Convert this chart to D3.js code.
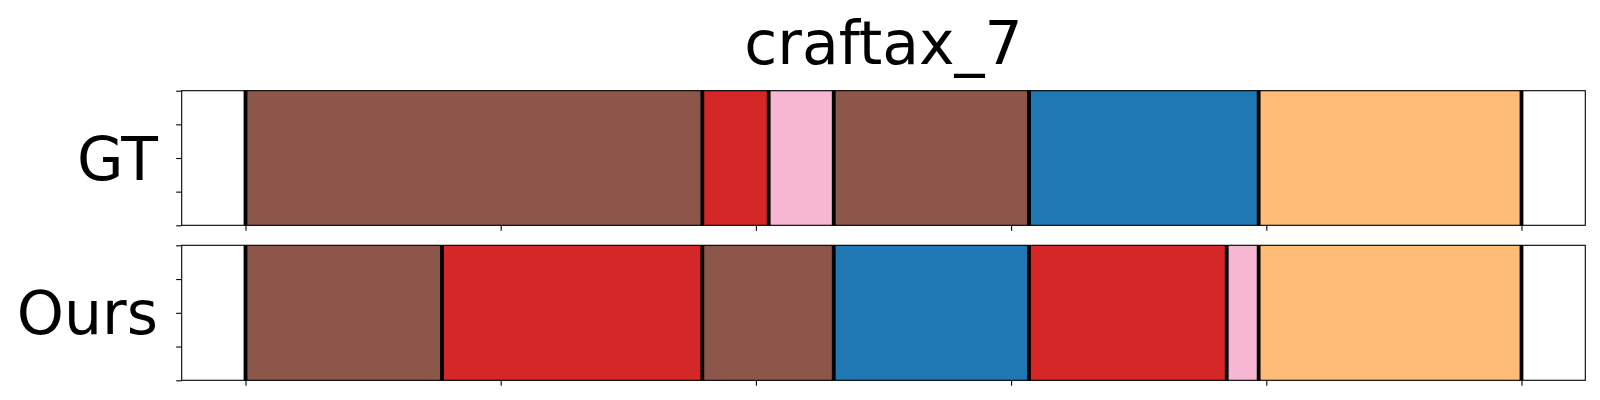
<!DOCTYPE html>
<html>
<head>
<meta charset="utf-8">
<script src="https://cdn.jsdelivr.net/npm/d3@7"></script>
<style>
  html, body { margin: 0; padding: 0; background: #fff; }
  svg { display: block; font-family: "DejaVu Sans", sans-serif; }
</style>
</head>
<body>
<svg id="chart" width="1600" height="400"></svg>
<script>
// ---- data ----
const title = "craftax_7";
const rowLabels = ["GT", "Ours"];
// segment boundaries (frame index) for each row
const gtBounds   = [0, 179, 205, 230.5, 307, 397, 500];
const gtClasses  = ["brown", "red", "pink", "brown", "blue", "orange"];
const oursBounds  = [0, 77, 179, 230.5, 307, 384.5, 397, 500];
const oursClasses = ["brown", "red", "brown", "blue", "red", "pink", "orange"];
const classNames  = ["brown", "red", "pink", "blue", "orange"];
const classColors = ["#8c564b", "#d62728", "#f7b6d2", "#1f77b4", "#ffbb78"];
const xTicks = [0, 100, 200, 300, 400, 500];
const yTicks = [0, 0.25, 0.5, 0.75, 1];
const xDomain = [-25, 525];

// ---- layout ----
const svg = d3.select("#chart");
const left = 181.7, right = 1585.3;
const panels = [
  { label: rowLabels[0], bounds: gtBounds, classes: gtClasses, top: 90.7, bottom: 225.3 },
  { label: rowLabels[1], bounds: oursBounds, classes: oursClasses, top: 245.3, bottom: 380.3 }
];

const x = d3.scaleLinear().domain(xDomain).range([left, right]);
const color = d3.scaleOrdinal().domain(classNames).range(classColors);

svg.append("text")
  .attr("x", (left + right) / 2)
  .attr("y", 63.5)
  .attr("text-anchor", "middle")
  .attr("font-size", 60)
  .attr("fill", "#000")
  .text(title);

panels.forEach(p => {
  const y = d3.scaleLinear().domain([0, 1]).range([p.bottom, p.top]);
  const g = svg.append("g");
  const segs = p.classes.map((c, i) => ({ c, s: p.bounds[i], e: p.bounds[i + 1] }));

  g.selectAll("rect.seg").data(segs).enter().append("rect")
    .attr("class", "seg")
    .attr("x", d => x(d.s))
    .attr("width", d => x(d.e) - x(d.s))
    .attr("y", y(1))
    .attr("height", y(0) - y(1))
    .attr("fill", d => color(d.c))
    .attr("stroke", d => d3.color(color(d.c)).darker(0.4))
    .attr("stroke-width", 0.6);

  g.selectAll("line.bd").data(p.bounds).enter().append("line")
    .attr("class", "bd")
    .attr("x1", d => x(d)).attr("x2", d => x(d))
    .attr("y1", y(1)).attr("y2", y(0))
    .attr("stroke", "#000")
    .attr("stroke-width", 3.8);

  // frame
  g.append("rect")
    .attr("x", left).attr("y", p.top)
    .attr("width", right - left).attr("height", p.bottom - p.top)
    .attr("fill", "none").attr("stroke", "#000").attr("stroke-width", 1.1);

  // x ticks (no labels)
  const xAxis = d3.axisBottom(x).tickValues(xTicks).tickSize(5.5).tickFormat("");
  const xa = g.append("g").attr("transform", `translate(0,${p.bottom})`).call(xAxis);
  xa.select(".domain").remove();
  xa.selectAll("line").attr("stroke", "#000").attr("stroke-width", 1.1);

  // y ticks (no labels)
  const yAxis = d3.axisLeft(y).tickValues(yTicks).tickSize(5.5).tickFormat("");
  const ya = g.append("g").attr("transform", `translate(${left},0)`).call(yAxis);
  ya.select(".domain").remove();
  ya.selectAll("line").attr("stroke", "#000").attr("stroke-width", 1.1);

  svg.append("text")
    .attr("x", 158)
    .attr("y", (p.top + p.bottom) / 2 + 21.5)
    .attr("text-anchor", "end")
    .attr("font-size", 60)
    .attr("fill", "#000")
    .text(p.label);
});
</script>
</body>
</html>
